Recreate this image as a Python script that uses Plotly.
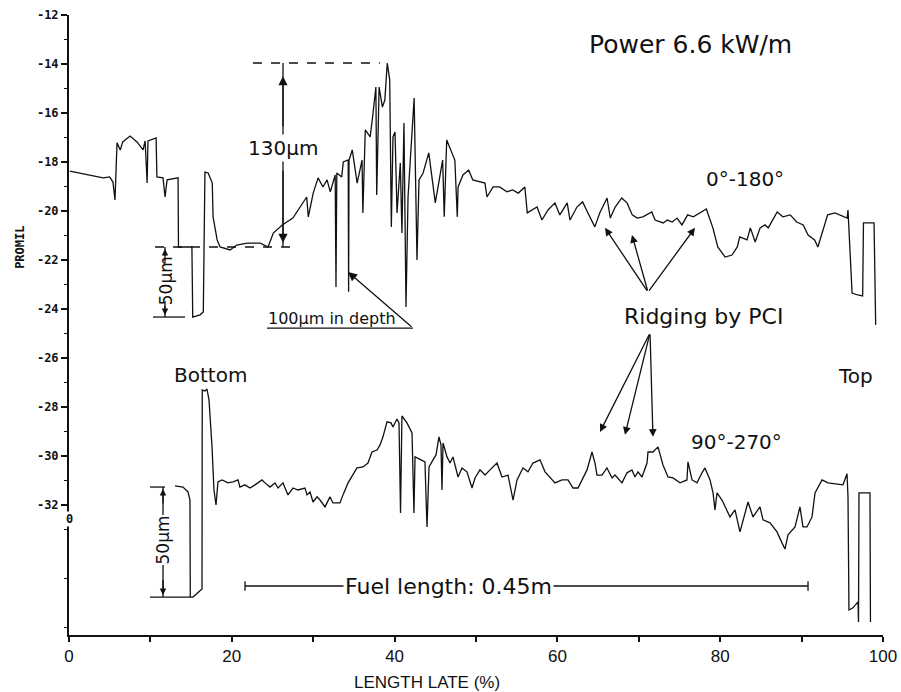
import plotly.graph_objects as go

# ---- data (x: length %, y: promil) ----
top_x = [0.1, 4.2, 5.0, 5.4, 5.65, 5.9, 6.3, 6.6, 7.5, 8.35, 9.1, 9.35, 9.6, 9.7, 10.7, 10.8, 11.55, 11.8, 12.05, 13.4,
         13.45, 15.1, 15.2, 16.1, 16.5, 16.7, 17.1, 17.6, 17.7, 18.2, 18.55, 19.8, 20.6, 21.9, 23.5, 24.45, 25.1, 26.2, 27.5, 28.4,
         29.2, 29.4, 30.0, 30.6, 31.2, 31.7, 32.1, 32.7, 32.8, 32.9, 33.5, 33.7, 34.3, 34.35, 34.4, 34.8, 35.1, 35.4, 36.0, 36.1,
         36.4, 37.0, 37.3, 37.7, 37.8, 38.1, 38.5, 38.8, 39.1, 39.4, 39.6, 39.8, 40.05, 40.3, 40.7, 40.9, 41.15, 41.4, 41.65, 42.4,
         42.75, 43.0, 43.5, 44.2, 45.0, 45.9, 46.1, 46.4, 47.4, 47.7, 47.8, 48.4, 49.1, 49.6, 51.1, 51.35, 52.1, 52.9, 53.8, 54.5,
         55.2, 56.0, 56.3, 57.5, 58.1, 58.85, 59.7, 60.3, 61.2, 61.55, 62.4, 63.1, 63.75, 64.6, 65.2, 66.1, 66.5, 67.1, 67.9, 68.55,
         69.2, 69.8, 70.5, 71.6, 72.0, 73.0, 73.5, 74.1, 74.7, 75.3, 76.0, 76.7, 78.3, 79.1, 79.7, 80.6, 81.45, 82.1, 82.4, 83.3,
         83.7, 84.3, 84.9, 85.5, 85.9, 87.0, 87.7, 88.6, 89.4, 90.2, 90.8, 91.6, 92.0, 92.6, 93.2, 94.1, 95.6, 95.7, 96.2, 96.9,
         97.5, 97.6, 98.9, 99.1]
top_y = [-18.37, -18.65, -18.61, -18.82, -19.55, -17.22, -17.51, -17.18, -16.94, -17.18, -17.51, -17.14, -18.86, -17.14, -17.02, -18.61, -18.65, -19.43, -18.73, -18.65,
         -21.47, -21.47, -24.33, -24.24, -24.12, -18.41, -18.45, -18.86, -20.24, -21.18, -21.47, -21.59, -21.39, -21.31, -21.31, -21.47, -20.9, -20.57, -20.29, -19.84,
         -19.43, -20.24, -19.27, -18.65, -19.02, -18.73, -19.22, -18.53, -23.1, -18.45, -18.61, -18.0, -17.92, -23.3, -17.92, -17.51, -18.2, -18.86, -17.92, -20.08,
         -16.69, -16.98, -16.16, -14.94, -19.35, -14.94, -15.76, -15.47, -13.96, -14.65, -20.65, -16.98, -16.78, -20.08, -18.04, -20.9, -16.41, -23.92, -19.43, -15.39,
         -22.0, -18.73, -18.45, -17.63, -19.67, -17.92, -20.24, -17.1, -17.92, -20.24, -19.02, -18.53, -18.33, -18.73, -18.86, -19.43, -19.02, -19.02, -19.22, -19.14,
         -19.27, -19.02, -20.08, -19.84, -20.37, -19.96, -19.67, -20.16, -19.67, -20.37, -19.84, -19.63, -20.08, -20.65, -20.08, -19.47, -20.29, -19.84, -19.47, -19.67,
         -20.16, -20.29, -20.24, -20.04, -20.37, -20.49, -20.37, -20.45, -20.29, -20.57, -20.16, -20.24, -19.92, -20.69, -21.47, -21.88, -21.8, -21.47, -21.06, -21.18,
         -20.69, -21.27, -20.69, -20.57, -20.69, -20.04, -20.24, -20.16, -20.45, -20.57, -20.98, -21.18, -21.47, -20.86, -20.16, -20.08, -20.29, -19.96, -23.35, -23.43,
         -23.47, -20.49, -20.49, -24.65]

bot_x = [13.02, 14.0, 14.62, 14.86, 14.9, 15.23, 16.34, 16.37, 16.71, 16.95, 17.2, 17.57, 17.81, 18.06, 18.3, 18.8, 19.53, 20.15, 20.76, 21.0,
         21.6, 22.24, 22.85, 23.71, 24.08, 24.69, 25.31, 25.68, 26.29, 26.9, 27.52, 28.13, 28.99, 29.24, 29.61, 29.98, 30.47, 30.84, 31.45, 32.06,
         32.43, 33.29, 33.66, 34.28, 35.38, 36.12, 36.73, 37.22, 37.84, 38.21, 38.57, 39.07, 39.56, 39.8, 40.29, 40.54, 40.73, 40.9, 41.52, 42.14,
         42.38, 42.51, 43.24, 43.73, 43.98, 44.23, 44.72, 45.09, 45.45, 45.7, 45.82, 45.95, 46.44, 46.81, 47.17, 47.79, 48.28, 48.89, 49.51, 49.88,
         50.49, 51.11, 51.72, 52.58, 53.19, 53.93, 54.55, 55.04, 55.77, 56.39, 57.0, 57.86, 58.48, 59.09, 59.71, 60.57, 61.3, 61.92, 62.53, 63.64,
         64.25, 64.62, 64.86, 65.48, 66.09, 66.71, 67.08, 67.94, 68.55, 69.16, 69.53, 69.9, 70.39, 71.01, 71.13, 71.74, 72.36, 72.97, 73.59, 74.2,
         75.06, 75.92, 76.04, 76.54, 77.15, 77.76, 78.13, 78.75, 79.12, 79.36, 79.61, 80.22, 80.84, 81.2, 81.82, 82.43, 83.42, 84.03, 84.89, 85.26,
         86.12, 86.98, 87.59, 87.96, 88.33, 89.19, 89.8, 90.17, 90.66, 91.28, 91.65, 92.51, 93.24, 95.09, 95.58, 95.7, 95.82, 96.31, 96.93, 96.99,
         97.05, 98.4, 98.46]
bot_y = [-31.22, -31.27, -31.47, -31.8, -35.76, -35.76, -35.43, -27.31, -27.35, -27.27, -27.71, -29.63, -31.39, -32.0, -31.06, -30.98, -31.1, -31.06, -30.98, -31.27,
         -31.18, -31.31, -31.18, -30.98, -31.1, -31.27, -31.1, -31.31, -31.1, -31.59, -31.31, -31.39, -31.31, -31.59, -31.47, -31.88, -31.67, -31.8, -32.08, -31.67,
         -31.92, -31.92, -31.59, -31.1, -30.49, -30.45, -30.29, -29.84, -29.76, -29.55, -29.22, -28.61, -28.65, -28.82, -28.49, -28.65, -32.33, -28.37, -28.65, -29.06,
         -32.33, -30.04, -30.16, -30.24, -32.9, -30.45, -30.16, -29.96, -29.22, -29.55, -31.39, -29.47, -30.04, -30.29, -30.04, -30.86, -30.49, -30.65, -31.31, -30.9,
         -30.57, -30.78, -30.57, -30.29, -30.86, -30.78, -31.8, -30.98, -30.49, -30.65, -30.29, -30.16, -30.65, -30.86, -31.1, -30.98, -30.98, -31.31, -31.31, -30.57,
         -29.84, -30.29, -30.78, -30.78, -30.49, -30.9, -30.78, -31.1, -30.69, -30.57, -30.86, -30.65, -30.86, -30.29, -29.84, -29.84, -29.63, -30.37, -30.86, -30.9,
         -31.1, -30.98, -30.24, -30.98, -31.1, -30.69, -30.49, -30.98, -31.51, -32.2, -31.51, -31.8, -32.2, -32.49, -32.2, -33.1, -31.88, -32.49, -32.08, -32.61,
         -32.73, -33.1, -33.55, -33.8, -33.22, -32.9, -32.08, -32.9, -32.9, -32.49, -31.51, -30.98, -31.1, -31.18, -30.73, -31.67, -36.29, -36.2, -35.96, -36.78,
         -31.51, -31.51, -36.78]

y_ticks = [-12, -14, -16, -18, -20, -22, -24, -26, -28, -30, -32]
y_ticktext = ["-12", "-14", "-16", "-18", "-20", "-22", "-24", "-26", "-28", "-30", "-32"]
y_minor = [-13, -15, -17, -19, -21, -23, -25, -27, -29, -31, -33, -35, -37]
x_ticks = [0, 20, 40, 60, 80, 100]
x_minor = [10, 30, 50, 70, 90]

LINE = dict(color="#111111", width=1.3)
TXT = "DejaVu Sans"

fig = go.Figure()
fig.add_trace(go.Scatter(x=top_x, y=top_y, mode="lines", line=LINE, showlegend=False, hoverinfo="skip"))
fig.add_trace(go.Scatter(x=bot_x, y=bot_y, mode="lines", line=LINE, showlegend=False, hoverinfo="skip"))

shapes = []
def seg(x0, y0, x1, y1, dash="solid", w=1.3):
    shapes.append(dict(type="line", xref="x", yref="y", x0=x0, y0=y0, x1=x1, y1=y1,
                       line=dict(color="#111111", width=w, dash=dash)))

# 130 um dimension
seg(22.6, -13.96, 38.2, -13.96, dash="dash")
seg(10.57, -21.47, 27.76, -21.47, dash="dash")
seg(26.29, -13.96, 26.29, -21.47)
# top 50 um bracket
seg(11.79, -21.47, 11.79, -24.33)
seg(10.32, -24.33, 14.25, -24.33)
# bottom 50 um bracket
seg(11.55, -31.27, 11.55, -35.76)
seg(9.95, -31.27, 11.79, -31.27)
seg(9.95, -35.76, 14.86, -35.76)
# underline of "100um in depth"
seg(24.32, -24.78, 42.26, -24.78)
# fuel length bar
seg(21.62, -35.31, 90.79, -35.31)
seg(21.62, -35.12, 21.62, -35.50)
seg(90.79, -35.12, 90.79, -35.50)

ann = []
def text(x, y, s, size, **kw):
    d = dict(x=x, y=y, xref="x", yref="y", text=s, showarrow=False,
             font=dict(family=TXT, size=size, color="#111111"))
    d.update(kw)
    ann.append(d)

def arrow(xh, yh, xt, yt, size=1.1):
    ann.append(dict(x=xh, y=yh, ax=xt, ay=yt, xref="x", yref="y", axref="x", ayref="y",
                    text="", showarrow=True, arrowhead=2, arrowsize=size, arrowwidth=1.3,
                    arrowcolor="#111111", standoff=0, startstandoff=0))

text(76.3, -13.22, "Power 6.6 kW/m", 25)
text(26.29, -17.43, "130µm", 20, bgcolor="white")
text(83.05, -18.69, "0°-180°", 20)
text(77.89, -24.29, "Ridging by PCI", 22)
text(32.31, -24.37, "100µm in depth", 16)
text(17.44, -26.69, "Bottom", 20)
text(96.56, -26.73, "Top", 20)
text(82.06, -29.43, "90°-270°", 20)
text(46.56, -35.31, "Fuel length: 0.45m", 22, bgcolor="white")
text(11.85, -22.85, "50µm", 17, textangle=-90, bgcolor="white", borderpad=0)
text(11.55, -33.45, "50µm", 17, textangle=-90, bgcolor="white", borderpad=0)
text(0, -32.57, "0", 12, bgcolor="white", borderpad=0,
     font=dict(family="DejaVu Sans Mono", size=12, color="#111111", weight="bold"))

# arrows
arrow(26.29, -14.5, 26.29, -16.6, 1.4)
arrow(26.29, -21.3, 26.29, -18.3, 1.4)
arrow(11.79, -21.55, 11.79, -22.2, 1.0)
arrow(11.79, -24.25, 11.79, -23.6, 1.0)
arrow(11.55, -31.35, 11.55, -32.0, 1.0)
arrow(11.55, -35.68, 11.55, -35.0, 1.0)
arrow(34.28, -22.49, 42.26, -24.78, 1.4)
for hx, hy in [(65.85, -20.69), (69.16, -20.98), (76.9, -20.69)]:
    arrow(hx, hy, 71.13, -23.31, 1.2)
for hx, hy in [(65.23, -29.02), (68.3, -29.14), (71.74, -29.22)]:
    arrow(hx, hy, 71.38, -24.98, 1.2)

# axis titles
ann.append(dict(x=44.0, y=-0.077, xref="x", yref="paper", yanchor="middle", xanchor="center",
                text="LENGTH LATE (%)", showarrow=False,
                font=dict(family="Liberation Sans", size=17, color="#111111")))
ann.append(dict(x=-0.06, y=-21.5, xref="paper", yref="y", xanchor="center", yanchor="middle",
                text="PROMIL", showarrow=False, textangle=-90,
                font=dict(family="DejaVu Sans Mono", size=12, color="#111111", weight="bold")))

fig.update_layout(
    width=901, height=692,
    margin=dict(l=69, r=18, t=15, b=57, autoexpand=False),
    paper_bgcolor="white", plot_bgcolor="white",
    shapes=shapes, annotations=ann,
    xaxis=dict(range=[0, 100], showline=True, linecolor="#111111", linewidth=2,
               ticks="outside", ticklen=5, tickwidth=1.5, tickcolor="#111111",
               tickvals=x_ticks, ticktext=[str(v) for v in x_ticks],
               tickfont=dict(family="Liberation Sans", size=17, color="#111111"),
               minor=dict(ticks="outside", tickvals=x_minor, ticklen=5, tickcolor="#111111", tickwidth=1.5),
               showgrid=False, zeroline=False, automargin=False),
    yaxis=dict(range=[-37.31, -12], showline=True, linecolor="#111111", linewidth=2,
               ticks="outside", ticklen=6, tickwidth=1.5, tickcolor="#111111",
               tickvals=y_ticks, ticktext=y_ticktext,
               tickfont=dict(family="DejaVu Sans Mono", size=12, color="#111111", weight="bold"),
               minor=dict(ticks="outside", tickvals=y_minor, ticklen=3, tickcolor="#111111", tickwidth=1.2),
               showgrid=False, zeroline=False, automargin=False),
)

fig.write_html("out.html")
